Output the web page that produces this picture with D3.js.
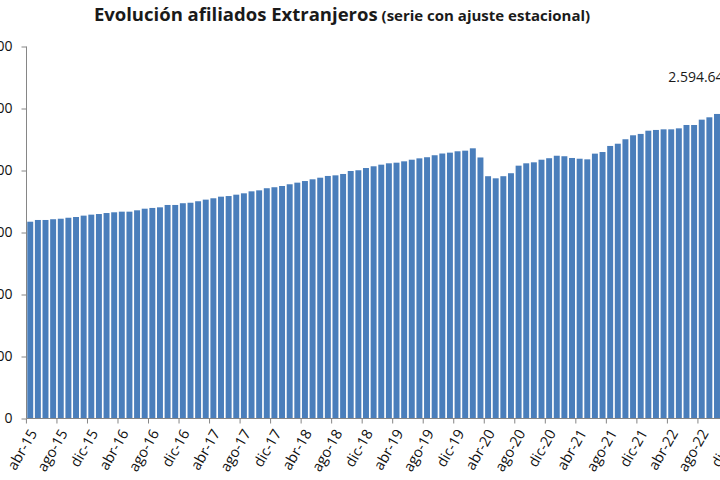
<!DOCTYPE html>
<html>
<head>
<meta charset="utf-8">
<script src="https://cdn.jsdelivr.net/npm/d3@7"></script>
<style>
  body { margin: 0; background: #fff; }
  svg { display: block; font-family: "Open Sans", "DejaVu Sans", sans-serif; }
</style>
</head>
<body>
<svg id="chart" width="720" height="480"></svg>
<script>
// meses abr-15 .. dic-22 (el grafico sigue a la derecha, fuera del recorte)
var monthNames = ["ene","feb","mar","abr","may","jun","jul","ago","sep","oct","nov","dic"];
var months = [];
for (var yy = 15; yy <= 22; yy++) {
    for (var m = 0; m < 12; m++) {
        if (yy == 15 && m < 3) continue;
        months.push(monthNames[m] + "-" + yy);
    }
}

// afiliados extranjeros (serie con ajuste estacional)
var affiliates = [
    1587000, 1601000, 1601000, 1607000, 1611000, 1619000, 1625000, 1636000, 1644000, 1649000,
    1657000, 1663000, 1668000, 1668000, 1679000, 1692000, 1698000, 1703000, 1722000, 1722000,
    1736000, 1740000, 1752000, 1765000, 1776000, 1789000, 1794000, 1805000, 1816000, 1832000,
    1840000, 1857000, 1865000, 1875000, 1889000, 1902000, 1915000, 1929000, 1942000, 1956000,
    1961000, 1972000, 1996000, 2002000, 2020000, 2034000, 2047000, 2058000, 2063000, 2074000,
    2087000, 2098000, 2107000, 2123000, 2137000, 2144000, 2155000, 2160000, 2179000, 2105000,
    1954000, 1937000, 1954000, 1978000, 2039000, 2058000, 2066000, 2087000, 2099000, 2119000,
    2115000, 2101000, 2095000, 2090000, 2136000, 2149000, 2198000, 2216000, 2252000, 2284000,
    2295000, 2321000, 2327000, 2332000, 2332000, 2340000, 2367000, 2367000, 2410000, 2429000,
    2456000
];

var yTicks = [0, 500000, 1000000, 1500000, 2000000, 2500000, 3000000];
var lastLabel = "2.594.640";

var data = affiliates.map(function(v, i){ return {month: months[i], value: v}; });

var svg = d3.select("#chart");
var plotLeft = 26.5, plotRight = 736, plotTop = 46.5, plotBottom = 418.5;

var x = d3.scaleBand().domain(months).range([plotLeft, plotRight]).paddingInner(0.22).paddingOuter(0.1);
var y = d3.scaleLinear().domain([0, 3000000]).range([plotBottom, plotTop]);

var fmt = function(v){ return d3.format(",")(v).replace(/,/g, "."); };

// title
var title = svg.append("text")
    .attr("x", 342).attr("y", 21)
    .attr("text-anchor", "middle")
    .attr("font-weight", "bold")
    .attr("fill", "#1a1a1a");
title.append("tspan").attr("font-size", 18.5).text("Evolución afiliados Extranjeros");
title.append("tspan").attr("font-size", 15).text(" (serie con ajuste estacional)");

// bars
svg.selectAll(".bar")
    .data(data)
    .enter()
    .append("rect")
    .attr("class", "bar")
    .attr("x", function(d){ return x(d.month); })
    .attr("width", x.bandwidth())
    .attr("y", function(d){ return y(d.value); })
    .attr("height", function(d){ return plotBottom - y(d.value); })
    .attr("fill", "#4a7ebb");

// y axis
var yAxis = svg.append("g")
    .attr("transform", "translate(" + plotLeft + ",0)")
    .call(d3.axisLeft(y).tickValues(yTicks).tickSize(5).tickPadding(9).tickFormat(fmt));
yAxis.selectAll("text").attr("font-size", 14).attr("fill", "#111")
    .style("font-family", "'Open Sans', sans-serif");
yAxis.selectAll("line, path").attr("stroke", "#868686");
yAxis.select(".domain").attr("d", "M0," + plotTop + "V" + plotBottom);

// x axis: ticks every 4 months on category boundary, labels on center
var tickMonths = months.filter(function(d, i){ return i % 4 == 0; });
var xAxis = svg.append("g").attr("class", "xaxis");
xAxis.append("line")
    .attr("x1", plotLeft).attr("x2", 720)
    .attr("y1", plotBottom).attr("y2", plotBottom)
    .attr("stroke", "#868686");
xAxis.selectAll(".xtick")
    .data(tickMonths)
    .enter()
    .append("line")
    .attr("class", "xtick")
    .attr("x1", function(d){ return x(d) - x.step() * x.paddingInner() / 2; })
    .attr("x2", function(d){ return x(d) - x.step() * x.paddingInner() / 2; })
    .attr("y1", plotBottom).attr("y2", plotBottom + 5)
    .attr("stroke", "#868686");
xAxis.selectAll(".xlabel")
    .data(tickMonths)
    .enter()
    .append("text")
    .attr("class", "xlabel")
    .attr("text-anchor", "end")
    .attr("font-size", 14.5)
    .attr("fill", "#111")
    .attr("dy", "0.35em")
    .attr("transform", function(d){
        return "translate(" + (x(d) + x.bandwidth() / 2 + 3) + "," + (plotBottom + 12) + ") rotate(-60)";
    })
    .text(function(d){ return d; });

// data label of the last value (sits top right)
svg.append("text")
    .attr("x", x("abr-22"))
    .attr("y", 82)
    .attr("font-size", 14)
    .attr("fill", "#1a1a1a")
    .text(lastLabel);
</script>
</body>
</html>
